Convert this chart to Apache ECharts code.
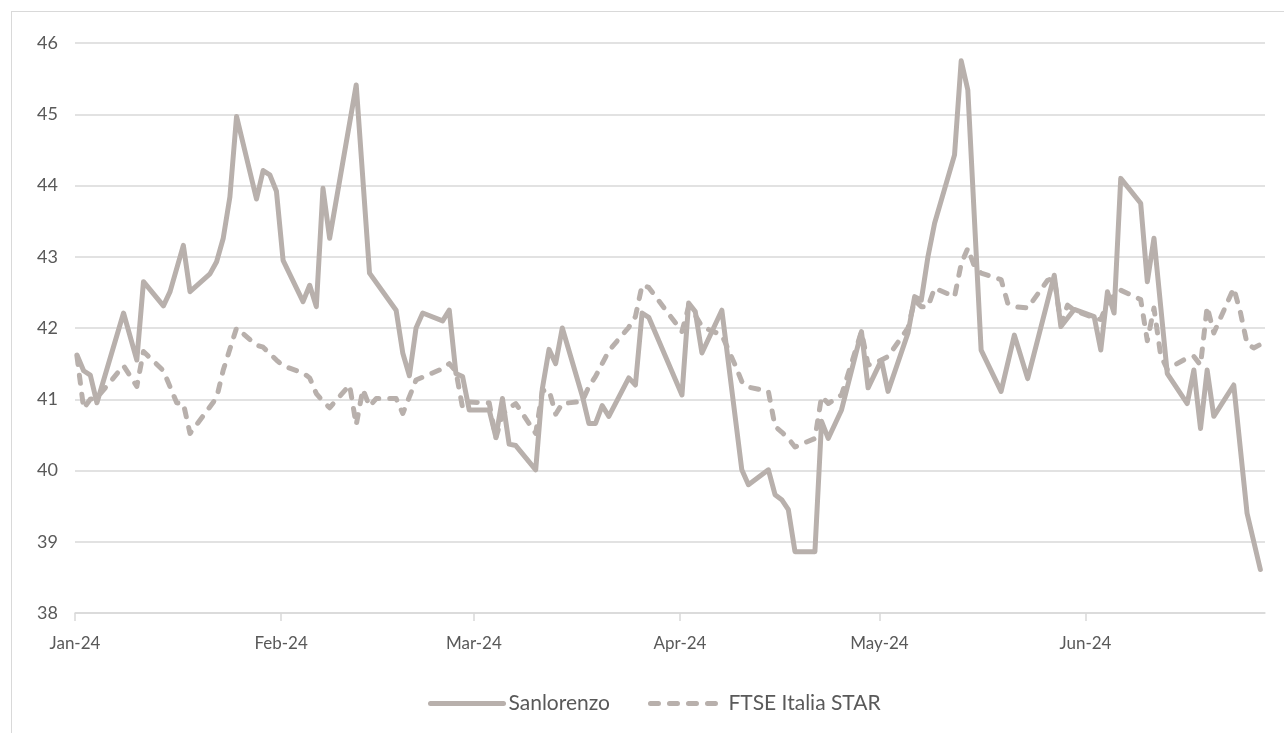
<!DOCTYPE html>
<html>
<head>
<meta charset="utf-8">
<script src="https://cdn.jsdelivr.net/npm/echarts@6/dist/echarts.min.js"></script>
<style>
html,body{margin:0;padding:0;background:#fff;}
#wrap{position:relative;width:1284px;height:733px;overflow:hidden;}
#chart{position:absolute;left:0;top:0;width:1284px;height:733px;}
#frame{position:absolute;left:11px;top:11px;width:1400px;height:800px;border:1px solid #d9d9d9;pointer-events:none;}
</style>
</head>
<body>
<div id="wrap"><div id="chart"></div><div id="frame"></div></div>
<script>
// ---- data ----
const monthNames = ['Jan','Feb','Mar','Apr','May','Jun','Jul','Aug','Sep','Oct','Nov','Dec'];
const xRange = ['2024-01-01', '2024-06-28'];
const yTicks = [38, 39, 40, 41, 42, 43, 44, 45, 46];
const seriesNames = ['Sanlorenzo', 'FTSE Italia STAR'];

const sanDates = ['2024-01-02','2024-01-03','2024-01-04','2024-01-05','2024-01-09','2024-01-11','2024-01-12','2024-01-15','2024-01-16','2024-01-18','2024-01-19','2024-01-22','2024-01-23','2024-01-24','2024-01-25','2024-01-26','2024-01-29','2024-01-30','2024-01-31',
'2024-02-01','2024-02-02','2024-02-05','2024-02-06','2024-02-07','2024-02-08','2024-02-09','2024-02-13','2024-02-15','2024-02-19','2024-02-20','2024-02-21','2024-02-22','2024-02-23','2024-02-26','2024-02-27','2024-02-28','2024-02-29',
'2024-03-01','2024-03-04','2024-03-05','2024-03-06','2024-03-07','2024-03-08','2024-03-11','2024-03-12','2024-03-13','2024-03-14','2024-03-15','2024-03-18','2024-03-19','2024-03-20','2024-03-21','2024-03-22','2024-03-25','2024-03-26','2024-03-27','2024-03-28',
'2024-04-02','2024-04-03','2024-04-04','2024-04-05','2024-04-08','2024-04-11','2024-04-12','2024-04-15','2024-04-16','2024-04-17','2024-04-18','2024-04-19','2024-04-22','2024-04-23','2024-04-24','2024-04-26','2024-04-29','2024-04-30',
'2024-05-02','2024-05-03','2024-05-06','2024-05-07','2024-05-08','2024-05-09','2024-05-10','2024-05-13','2024-05-14','2024-05-15','2024-05-17','2024-05-20','2024-05-22','2024-05-24','2024-05-28','2024-05-29','2024-05-31',
'2024-06-03','2024-06-04','2024-06-05','2024-06-06','2024-06-07','2024-06-10','2024-06-11','2024-06-12','2024-06-14','2024-06-17','2024-06-18','2024-06-19','2024-06-20','2024-06-21','2024-06-24','2024-06-26','2024-06-28'];
const sanValues = [41.62,41.40,41.34,40.95,42.21,41.55,42.65,42.31,42.51,43.16,42.51,42.76,42.93,43.26,43.84,44.97,43.81,44.21,44.15,
43.92,42.95,42.37,42.60,42.30,43.96,43.26,45.41,42.77,42.25,41.65,41.33,42.00,42.21,42.10,42.25,41.36,41.32,
40.85,40.85,40.47,41.01,40.37,40.35,40.01,41.15,41.70,41.50,42.00,41.05,40.66,40.66,40.91,40.76,41.30,41.20,42.21,42.15,
41.06,42.35,42.23,41.65,42.25,40.01,39.80,40.01,39.66,39.59,39.45,38.86,38.86,40.69,40.45,40.85,41.95,41.16,
41.55,41.11,41.93,42.44,42.39,43.00,43.47,44.43,45.75,45.34,41.69,41.11,41.90,41.29,42.74,42.02,42.26,
42.16,41.69,42.51,42.21,44.10,43.75,42.65,43.26,41.36,40.94,41.41,40.59,41.41,40.76,41.20,39.40,38.61];

const starDates = ['2024-01-02','2024-01-03','2024-01-04','2024-01-05','2024-01-09','2024-01-11','2024-01-12','2024-01-15','2024-01-17','2024-01-18','2024-01-19','2024-01-23','2024-01-24','2024-01-26','2024-01-29','2024-01-30',
'2024-02-01','2024-02-02','2024-02-05','2024-02-06','2024-02-07','2024-02-08','2024-02-09','2024-02-12','2024-02-13','2024-02-14','2024-02-15','2024-02-16','2024-02-19','2024-02-20','2024-02-22','2024-02-26','2024-02-27','2024-02-28','2024-02-29',
'2024-03-01','2024-03-04','2024-03-05','2024-03-06','2024-03-07','2024-03-08','2024-03-11','2024-03-12','2024-03-13','2024-03-14','2024-03-15','2024-03-18','2024-03-19','2024-03-20','2024-03-21','2024-03-22','2024-03-25','2024-03-26','2024-03-27','2024-03-28',
'2024-04-02','2024-04-03','2024-04-04','2024-04-05','2024-04-08','2024-04-09','2024-04-10','2024-04-11','2024-04-12','2024-04-15','2024-04-16','2024-04-17','2024-04-18','2024-04-19','2024-04-22','2024-04-23','2024-04-24','2024-04-26','2024-04-29','2024-04-30',
'2024-05-02','2024-05-03','2024-05-06','2024-05-07','2024-05-08','2024-05-09','2024-05-10','2024-05-13','2024-05-14','2024-05-15','2024-05-16','2024-05-17','2024-05-20','2024-05-21','2024-05-22','2024-05-24','2024-05-27','2024-05-28','2024-05-29','2024-05-30','2024-05-31',
'2024-06-03','2024-06-04','2024-06-05','2024-06-06','2024-06-07','2024-06-10','2024-06-11','2024-06-12','2024-06-13','2024-06-14','2024-06-17','2024-06-18','2024-06-19','2024-06-20','2024-06-21','2024-06-24','2024-06-25','2024-06-26','2024-06-27','2024-06-28'];
const starValues = [41.60,40.87,41.00,41.02,41.47,41.18,41.67,41.40,40.95,40.94,40.52,41.02,41.41,42.00,41.76,41.73,
41.55,41.47,41.37,41.30,41.08,40.97,40.88,41.20,40.64,41.14,40.90,41.01,41.01,40.80,41.27,41.43,41.50,41.39,40.88,
40.96,40.95,40.45,40.78,40.88,40.94,40.52,41.12,41.13,40.79,40.94,40.97,41.18,41.32,41.50,41.68,42.01,42.16,42.60,42.57,
41.95,42.30,42.18,42.02,41.90,41.69,41.48,41.25,41.17,41.11,40.62,40.54,40.45,40.33,40.45,41.04,40.94,41.06,41.95,41.48,
41.55,41.60,42.00,42.39,42.30,42.30,42.56,42.44,42.90,43.12,42.86,42.77,42.68,42.35,42.30,42.28,42.67,42.70,42.06,42.32,42.25,
42.14,42.12,42.35,42.46,42.53,42.40,41.82,42.28,41.62,41.42,41.58,41.60,41.48,42.30,41.93,42.56,42.22,41.78,41.72,41.77];

// ---- chart ----
function ts(s){ const p=s.split('-'); return new Date(+p[0], +p[1]-1, +p[2]).getTime(); }
function pairs(d, v){ return d.map((x,i)=>[ts(x), v[i]]); }
const DAY = 86400000;
const plotShift = 0.7 * DAY; // reference plots each day slightly left of its calendar tick
const lineColor = '#b8b0ac';
const textColor = '#595959';
const fontFam = 'Lato, "Open Sans", sans-serif';
const solidStyle = {color:lineColor, width:5, join:'round', cap:'round'};
const dashStyle = {color:lineColor, width:5, type:[8,11], cap:'round', join:'round'};

const chart = echarts.init(document.getElementById('chart'), null, {renderer:'canvas'});
chart.setOption({
  animation:false,
  backgroundColor:'#ffffff',
  grid:{left:75, right:19, top:43, bottom:120, containLabel:false},
  legend:{
    left:423, top:688,
    itemWidth:73, itemHeight:14, itemGap:38,
    itemStyle:{opacity:0},
    textStyle:{color:textColor, fontSize:21, fontFamily:fontFam},
    data:[
      {name:seriesNames[0], lineStyle:solidStyle},
      {name:seriesNames[1], lineStyle:dashStyle}
    ]
  },
  xAxis:[{
    type:'time',
    min:ts(xRange[0]), max:ts(xRange[1]),
    minInterval:28*DAY, maxInterval:31*DAY, splitNumber:6,
    axisLine:{show:true, lineStyle:{color:'#d9d9d9', width:1.5}},
    axisTick:{show:true, length:8, lineStyle:{color:'#d9d9d9', width:1.5}},
    axisLabel:{
      margin:22, hideOverlap:false,
      color:textColor, fontSize:17, fontFamily:fontFam,
      formatter:function(v){ const d=new Date(v); return monthNames[d.getMonth()]+'-'+String(d.getFullYear()).slice(2); }
    },
    splitLine:{show:false}
  },{
    type:'time', show:false,
    min:ts(xRange[0]) + plotShift, max:ts(xRange[1]) + plotShift
  }],
  yAxis:{
    type:'value', min:yTicks[0], max:yTicks[yTicks.length-1], interval:1,
    axisLine:{show:false}, axisTick:{show:false},
    axisLabel:{color:textColor, fontSize:18, fontFamily:fontFam, margin:17},
    splitLine:{show:true, lineStyle:{color:'#d9d9d9', width:1.5}}
  },
  series:[
    {name:seriesNames[0], type:'line', xAxisIndex:1, symbol:'none', data:pairs(sanDates, sanValues),
     lineStyle:solidStyle, itemStyle:{color:lineColor}, z:3},
    {name:seriesNames[1], type:'line', xAxisIndex:1, symbol:'none', data:pairs(starDates, starValues),
     lineStyle:dashStyle, itemStyle:{color:lineColor}, z:2}
  ]
});
</script>
</body>
</html>
